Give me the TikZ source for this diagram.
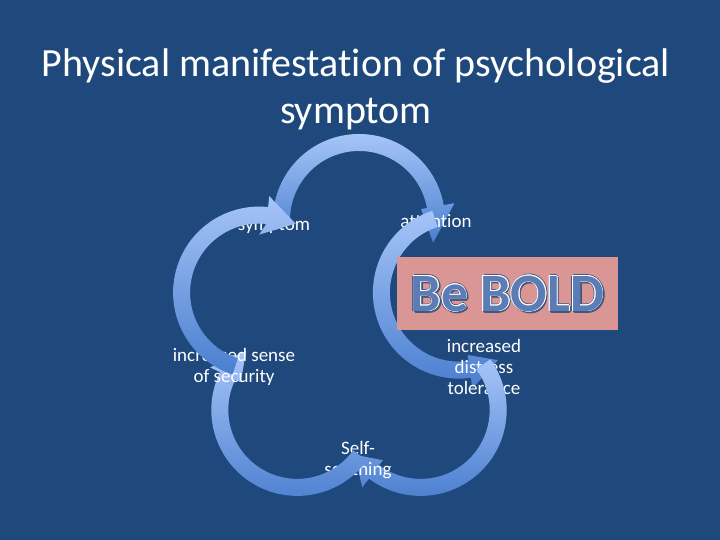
\documentclass[tikz,border=0pt]{standalone}
\usepackage{fontspec}
\setmainfont{Carlito}[Ligatures=NoCommon]
\usepackage{xcolor}
\usepackage{tikz}
\usetikzlibrary{positioning}

\definecolor{slideblue}{HTML}{1F497D}
\definecolor{arclight}{HTML}{A6C5F8}
\definecolor{arcdark}{HTML}{4A7ECF}
\definecolor{boldpink}{HTML}{D99694}
\definecolor{boldfill}{HTML}{5B7CB5}
\definecolor{boldshadow}{HTML}{44567A}

\begin{document}
\begin{tikzpicture}[x=1pt, y=1pt,
  cyclearc/.style={top color=arclight, bottom color=arcdark},
  steplabel/.style={text=white, align=center, inner sep=0pt,
                    font=\fontsize{19}{21}\selectfont},
  titletext/.style={text=white, align=center, inner sep=0pt,
                    font=\fontsize{40}{47}\selectfont},
  boldword/.style={inner sep=0pt, font=\fontsize{54}{60}\selectfont\bfseries}
]
  \fill[slideblue] (0,0) rectangle (720,540);
  \useasboundingbox (0,0) rectangle (720,540);

  \node[titletext] (title) at (356,451) {Physical manifestation of psychological\\symptom};

  \coordinate (ctop) at (359,320);
  \coordinate (cright) at (458.9,247.4);
  \coordinate (cbr) at (420.7,130.1);
  \coordinate (cbl) at (297.3,130.1);
  \coordinate (cleft) at (259.1,247.4);

  \node[steplabel] (symptom) at (274,314) {symptom};
  \shade[cyclearc, shift={(ctop)}] (180:86) arc[start angle=180, end angle=10, radius=86]
    -- (10:97) -- (-17:77.5) -- (10:63) -- (10:69) arc[start angle=10, end angle=180, radius=69] -- cycle;

  \node[steplabel] (attention) at (436,319) {attention};
  \shade[cyclearc, shift={(cright)}] (108:86) arc[start angle=108, end angle=278, radius=86]
    -- (278:97) -- (300:78) -- (278:63) -- (278:69) arc[start angle=278, end angle=108, radius=69] -- cycle;

  \node[steplabel] (tolerance) at (484,173) {increased\\distress\\tolerance};
  \shade[cyclearc, shift={(cbr)}] (36:86) arc[start angle=36, end angle=-127, radius=86]
    -- (-127:97) -- (-146:80) -- (-127:63) -- (-127:69) arc[start angle=-127, end angle=36, radius=69] -- cycle;

  \node[steplabel] (soothing) at (358,80) {Self-\\soothing};
  \shade[cyclearc, shift={(cbl)}] (324:86) arc[start angle=324, end angle=154, radius=86]
    -- (154:97) -- (131:78) -- (154:63) -- (154:69) arc[start angle=154, end angle=324, radius=69] -- cycle;

  \node[steplabel] (security) at (234,173) {increased sense\\of security};
  \shade[cyclearc, shift={(cleft)}] (252:86) arc[start angle=252, end angle=84, radius=86]
    -- (84:97) -- (62:78) -- (90:58) -- (84:69) arc[start angle=84, end angle=252, radius=69] -- cycle;

  \node[fill=boldpink, minimum width=221pt, minimum height=73pt, inner sep=0pt] (boldbox) at (507.5,246.5) {};
  \foreach \dx/\dy in {2.2/-1.4, 1.4/-2.2, 1.6/0.2, 0.2/-1.6, -1.2/-0.6, 0.6/1.2}
    \node[boldword, text=boldshadow] (boldshade) at ([xshift=\dx pt, yshift=\dy pt]boldbox.center) {Be BOLD};
  \foreach \dx/\dy in {0.8/0, -0.8/0, 0/0.8, 0/-0.8, 0.55/0.55, -0.55/0.55, 0.55/-0.55, -0.55/-0.55}
    \node[boldword, text=white] (boldrim) at ([xshift=\dx pt, yshift=\dy pt]boldbox.center) {Be BOLD};
  \node[boldword, text=boldfill] (boldtext) at (boldbox.center) {Be BOLD};
\end{tikzpicture}
\end{document}
